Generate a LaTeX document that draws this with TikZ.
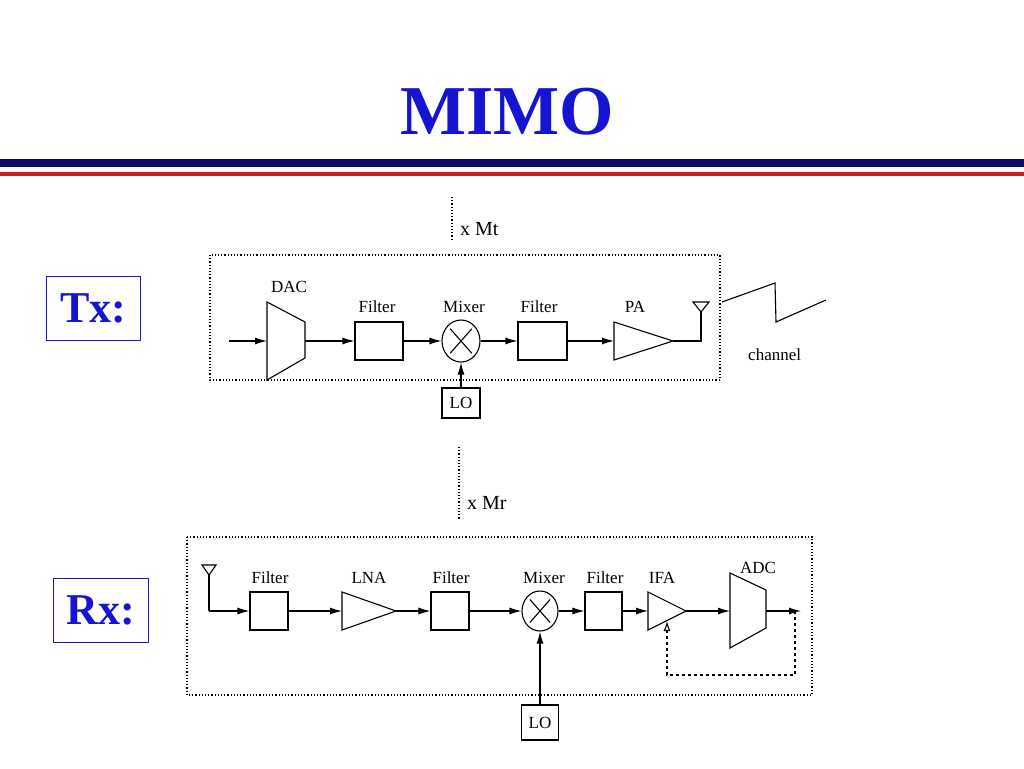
\documentclass[tikz,border=0pt]{standalone}
\usepackage{fontspec}
\setmainfont{Liberation Serif}
\usetikzlibrary{arrows.meta,shapes.geometric,calc}
\definecolor{tblue}{RGB}{20,20,210}
\definecolor{navy}{RGB}{10,10,110}
\definecolor{tred}{RGB}{200,30,40}
\begin{document}
\begin{tikzpicture}[x=1pt,y=-1pt,
 lbl/.style={font=\fontsize{17}{17}\selectfont,inner sep=0},
 blk/.style={draw,line width=1.1pt,inner sep=0},
 sig/.style={line width=1.1pt,-{Latex[length=12pt,width=7pt]}},
 wire/.style={line width=1.1pt},
 dbox/.style={draw,line width=1.2pt,dotted},
 side/.style={draw=tblue,line width=0.8pt,text=tblue,font=\fontsize{44}{44}\selectfont\bfseries,inner sep=0}]
\useasboundingbox (0,0) rectangle (1024,768);
% title
\node[text=tblue,font=\fontsize{70}{70}\selectfont\bfseries] (title) at (507,112) {MIMO};
\fill[navy] (0,159) rectangle (1024,167);
\fill[tred] (0,172) rectangle (1024,176);
% side labels
\node[side,minimum width=94pt,minimum height=64pt] (tx) at (93,308) {Tx:};
\node[side,minimum width=95pt,minimum height=64pt] (rx) at (100.5,610) {Rx:};
% ===== Tx =====
\draw[dbox] (210,255) rectangle (720,380);
\draw[line width=1.2pt,dotted] (452,197) -- (452,240);
\node[lbl,anchor=west,font=\fontsize{20}{20}\selectfont] (mt) at (460,229) {x Mt};
\coordinate (tin) at (229,341);
\draw[wire] (267,302) -- (305,322) -- (305,358) -- (267,380) -- cycle;
\coordinate (dacL) at (267,341); \coordinate (dacR) at (305,341);
\node[lbl] at (289,287) {DAC};
\node[blk,minimum width=48pt,minimum height=38pt] (tf1) at (379,341) {};
\node[lbl] at (377,307) {Filter};
\node[blk,ellipse,minimum width=38pt,minimum height=42pt] (tm) at (461,341) {};
\draw[wire] ($(tm.north east)+(-3,3)$) -- ($(tm.south west)+(3,-3)$);
\draw[wire] ($(tm.north west)+(3,3)$) -- ($(tm.south east)+(-3,-3)$);
\node[lbl] at (464,307) {Mixer};
\node[blk,minimum width=49pt,minimum height=38pt] (tf2) at (542.5,341) {};
\node[lbl] at (539,307) {Filter};
\draw[wire] (614,322) -- (673,341) -- (614,360) -- cycle;
\coordinate (paL) at (614,341); \coordinate (paR) at (673,341);
\node[lbl] at (635,307) {PA};
\node[blk,minimum width=38pt,minimum height=30pt] (tlo) at (461,403) {\fontsize{17}{17}\selectfont LO};
\draw[sig] (tin) -- (dacL);
\draw[sig] (dacR) -- (tf1);
\draw[sig] (tf1) -- (tm);
\draw[sig] (tm) -- (tf2);
\draw[sig] (tf2) -- (paL);
\draw[sig] (tlo) -- (tm);
\coordinate (tant) at (701,312);
\draw[wire] (paR) -- (701,341) -- (tant);
\draw[wire] (tant) -- (693,302) -- (709,302) -- cycle;
\draw[wire] (722,302) -- (775,283) -- (776,322) -- (826,300);
\node[lbl,anchor=west] (ch) at (748,355) {channel};
% ===== Rx =====
\draw[dbox] (187,537) rectangle (812,695);
\draw[line width=1.2pt,dotted] (459,447) -- (459,520);
\node[lbl,anchor=west,font=\fontsize{20}{20}\selectfont] (mr) at (467,503) {x Mr};
\coordinate (rant) at (209,575);
\draw[wire] (rant) -- (202,565) -- (216,565) -- cycle;
\coordinate (rc) at (209,611);
\node[blk,minimum width=38pt,minimum height=38pt] (rf1) at (269,611) {};
\node[lbl] at (270,578) {Filter};
\draw[wire] (342,592) -- (396,611) -- (342,630) -- cycle;
\coordinate (lnaL) at (342,611); \coordinate (lnaR) at (396,611);
\node[lbl] at (369,578) {LNA};
\node[blk,minimum width=38pt,minimum height=38pt] (rf2) at (450,611) {};
\node[lbl] at (451,578) {Filter};
\node[blk,ellipse,minimum width=36pt,minimum height=40pt] (rm) at (540,611) {};
\draw[wire] ($(rm.north east)+(-3,3)$) -- ($(rm.south west)+(3,-3)$);
\draw[wire] ($(rm.north west)+(3,3)$) -- ($(rm.south east)+(-3,-3)$);
\node[lbl] at (544,578) {Mixer};
\node[blk,minimum width=37pt,minimum height=38pt] (rf3) at (603.5,611) {};
\node[lbl] at (605,578) {Filter};
\draw[wire] (648,592) -- (686,611) -- (648,630) -- cycle;
\coordinate (ifaL) at (648,611); \coordinate (ifaR) at (686,611); \coordinate (ifaB) at (667,621);
\node[lbl] at (662,578) {IFA};
\draw[wire] (730,573) -- (766,590) -- (766,628) -- (730,648) -- cycle;
\coordinate (adcL) at (730,611); \coordinate (adcR) at (766,611);
\node[lbl] at (758,568) {ADC};
\coordinate (rout) at (801,611);
\node[blk,minimum width=37pt,minimum height=35pt] (rlo) at (540,722.5) {\fontsize{17}{17}\selectfont LO};
\draw[wire] (rant) -- (rc);
\draw[sig] (rc) -- (rf1);
\draw[sig] (rf1) -- (lnaL);
\draw[sig] (lnaR) -- (rf2);
\draw[sig] (rf2) -- (rm);
\draw[sig] (rm) -- (rf3);
\draw[sig] (rf3) -- (ifaL);
\draw[sig] (ifaR) -- (adcL);
\draw[sig] (adcR) -- (rout);
\draw[sig] (rlo) -- (rm);
\draw[line width=1.1pt,dashed,-{Latex[open,length=10pt,width=7pt]}] (795,611) -- (795,675) -- (667,675) -- (ifaB);
\end{tikzpicture}
\end{document}
